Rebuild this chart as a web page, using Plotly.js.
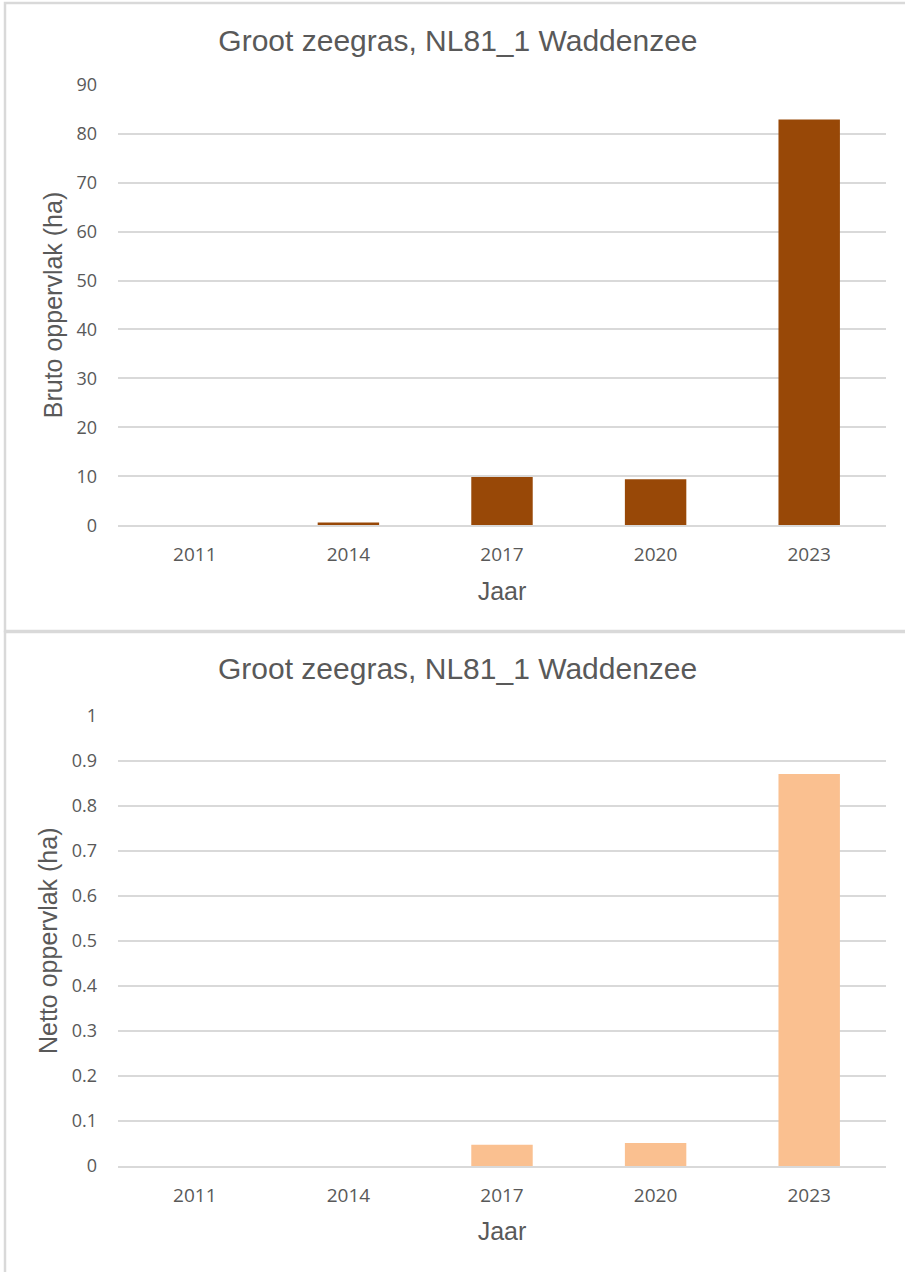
<!DOCTYPE html>
<html>
<head>
<meta charset="utf-8">
<script src="https://cdn.plot.ly/plotly-3.0.1.min.js"></script>
<style>
  html, body { margin: 0; padding: 0; background: #ffffff; }
  #chart { width: 905px; height: 1272px; }
</style>
</head>
<body>
<div id="chart"></div>
<script>
// ---- data ----
const years = ["2011", "2014", "2017", "2020", "2023"];
const brutoHa = [0, 0.55, 9.85, 9.4, 82.9];
const nettoHa = [0, 0, 0.047, 0.051, 0.87];
const chartTitle = "Groot zeegras, NL81_1 Waddenzee";
const brutoTitle = "Bruto oppervlak (ha)";
const nettoTitle = "Netto oppervlak (ha)";
const xTitle = "Jaar";

// ---- style ----
const W = 905, H = 1272;
const textColor = "#595959";
const gridColor = "#d9d9d9";
const xTickFont = { family: "Open Sans, Noto Sans, sans-serif", size: 19, color: textColor };
const yTickFont = { family: "Open Sans, Noto Sans, sans-serif", size: 18, color: textColor };
const titleFontFamily = "Liberation Sans, Arial, sans-serif";
const py = v => 1 - v / H;   // pixel-from-top -> paper y
const px = v => v / W;

const xDomain = [px(118), px(886)];
const topDomain = [py(525.3), py(84.7)];
const botDomain = [py(1166), py(715.5)];

function xAxis(anchor) {
  return {
    type: "category", domain: xDomain, anchor: anchor, range: [-0.5, 4.5],
    showgrid: false, showline: true, linecolor: gridColor, linewidth: 2,
    ticks: "", tickfont: xTickFont, ticklabelstandoff: 11,
    title: { text: xTitle, font: { family: titleFontFamily, size: 25, color: textColor }, standoff: 16 },
    fixedrange: true
  };
}
function yAxis(anchor, domain, range, dtick, title) {
  return {
    domain: domain, anchor: anchor, range: range, dtick: dtick,
    showgrid: true, gridcolor: gridColor, gridwidth: 2,
    zeroline: false, showline: false, ticks: "",
    tickfont: yTickFont, ticklabelstandoff: 20,
    title: { text: title, font: { family: titleFontFamily, size: 25, color: textColor }, standoff: 6 },
    fixedrange: true
  };
}

const traces = [
  { type: "bar", x: years, y: brutoHa, xaxis: "x", yaxis: "y",
    marker: { color: "#984807" }, hoverinfo: "x+y" },
  { type: "bar", x: years, y: nettoHa, xaxis: "x2", yaxis: "y2",
    marker: { color: "#FAC090" }, hoverinfo: "x+y" }
];

const layout = {
  width: W, height: H,
  margin: { l: 0, r: 0, t: 0, b: 0 },
  paper_bgcolor: "#ffffff", plot_bgcolor: "#ffffff",
  showlegend: false, bargap: 0.6,
  title: {
    text: chartTitle,
    font: { family: titleFontFamily, size: 30, color: textColor },
    x: 0.506, xref: "paper", xanchor: "center",
    y: py(40), yref: "paper", yanchor: "middle"
  },
  xaxis: xAxis("y"),
  yaxis: yAxis("x", topDomain, [0, 90], 10, brutoTitle),
  xaxis2: xAxis("y2"),
  yaxis2: yAxis("x2", botDomain, [0, 1], 0.1, nettoTitle),
  annotations: [
    { text: chartTitle, xref: "paper", yref: "paper", x: 0.506, y: py(668),
      xanchor: "center", yanchor: "middle", showarrow: false,
      font: { family: titleFontFamily, size: 30, color: textColor } }
  ],
  shapes: [
    { type: "rect", xref: "paper", yref: "paper", x0: px(5), x1: 1.02, y0: py(631), y1: py(3),
      line: { color: gridColor, width: 2.5 }, fillcolor: "rgba(0,0,0,0)", layer: "below" },
    { type: "rect", xref: "paper", yref: "paper", x0: px(5), x1: 1.02, y0: -0.02, y1: py(632),
      line: { color: gridColor, width: 2.5 }, fillcolor: "rgba(0,0,0,0)", layer: "below" }
  ]
};

Plotly.newPlot("chart", traces, layout, { displayModeBar: false, staticPlot: false });
</script>
</body>
</html>
